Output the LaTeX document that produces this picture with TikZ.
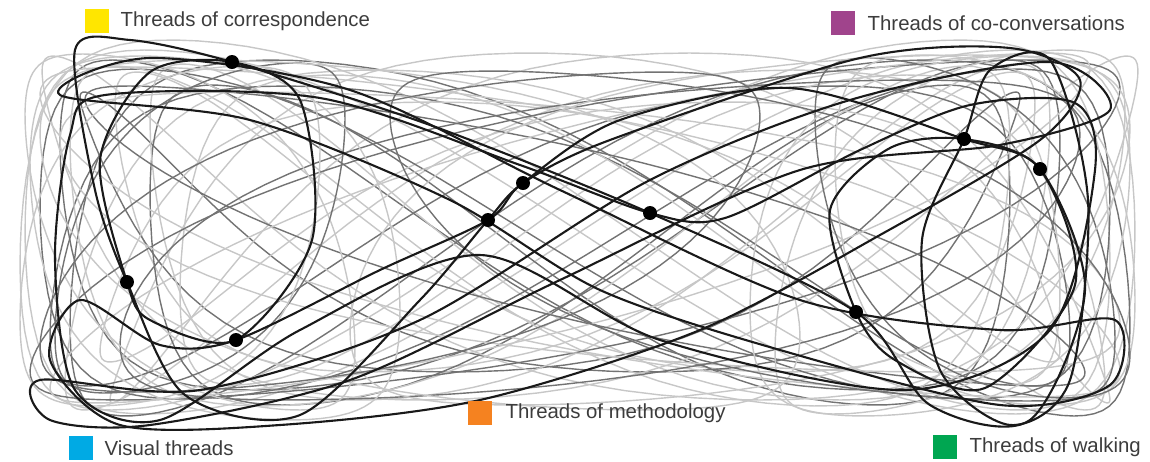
\documentclass[tikz,border=0pt]{standalone}
\usepackage{fontspec}
\setmainfont{Liberation Sans}
\usetikzlibrary{positioning}
\definecolor{corrYellow}{RGB}{255,230,0}
\definecolor{convPurple}{RGB}{160,68,140}
\definecolor{visBlue}{RGB}{0,170,228}
\definecolor{methOrange}{RGB}{245,130,32}
\definecolor{walkGreen}{RGB}{0,166,81}
\definecolor{labelGray}{RGB}{60,60,60}

\begin{document}
\begin{tikzpicture}[
  x=0.02cm, y=-0.02cm,
  declare function={sq(\u)=(sin(\u)+0.05*sin(3*\u))/0.95;},
  thread/.style={line width=0.8pt, line join=round},
  faint/.style={thread, black!22},
  mid/.style={thread, black!55},
  strong/.style={line width=1.2pt, black!90, line join=round},
  knot/.style={circle, fill=black, inner sep=0pt, minimum size=0.28cm},
  swatch/.style={minimum size=0.48cm, inner sep=0pt},
  key/.style={font=\fontsize{11.6}{13}\selectfont, text=labelGray, inner sep=0pt}
]
\useasboundingbox (0,0) rectangle (1150,461);

% --- Figure-eight threads ---
\foreach \cx/\cy/\a/\b/\q/\tone in {
  580/232/555/182/0/faint, 560/225/500/165/25/mid, 600/238/530/178/-25/mid,
  575/222/460/150/45/faint, 585/240/520/170/-50/faint, 550/232/470/140/70/mid,
  610/228/500/175/-75/faint, 580/245/430/160/15/mid, 565/225/545/185/-10/faint,
  600/232/450/168/35/faint, 560/236/510/150/-35/mid, 590/228/548/172/60/faint,
  580/232/480/130/-60/faint, 575/234/535/165/8/mid, 620/230/440/155/-20/faint,
  540/236/470/170/28/faint}
  \draw[\tone] plot[domain=0:360, samples=120, variable=\t]
    ({\cx+\a*sq(\t)}, {\cy+\b*sq(2*\t+\q)});

% --- Loop threads ---
\foreach \cx/\cy/\a/\b/\q/\tone in {
  580/232/540/165/40/faint, 575/230/545/170/140/mid, 585/236/500/150/30/mid,
  570/228/520/175/150/faint, 590/232/530/140/55/faint, 600/240/480/160/125/mid,
  190/232/165/178/55/faint, 200/228/145/165/125/mid, 215/238/185/182/70/faint,
  170/236/150/170/115/faint,
  950/232/175/182/125/faint, 965/228/150/170/55/mid, 940/236/190/180/110/faint,
  985/230/150/175/70/faint,
  420/235/380/175/60/faint, 740/230/390/175/120/faint,
  400/232/360/160/130/mid, 760/236/370/165/50/mid}
  \draw[\tone] plot[domain=0:360, samples=100, variable=\t]
    ({\cx+\a*sq(\t)}, {\cy+\b*sq(\t+\q)});

% --- Dark threads ---
\draw[strong] plot[smooth cycle] coordinates {(232,62) (300,100) (312,240) (236,340)
  (150,320) (127,282) (100,160) (150,72)};
\draw[strong] plot[smooth cycle] coordinates {(75,50) (95,190) (127,282) (185,395)
  (300,415) (420,300) (488,220) (523,183) (620,120) (790,88) (964,139) (1040,169)
  (1085,290) (1030,420) (930,405) (856,312) (650,213) (430,125) (232,62) (130,40)};
\draw[strong] plot[smooth cycle] coordinates {(964,139) (990,70) (1050,60) (1088,200)
  (1070,380) (1010,425) (940,370) (922,240)};
\draw[strong] plot[smooth cycle] coordinates {(856,312) (830,210) (890,148) (964,139)
  (1040,169) (1075,285) (985,388) (895,360)};
\draw[strong] plot[smooth cycle] coordinates {(70,135) (105,95) (320,98) (520,165)
  (650,213) (725,218) (860,150) (970,105) (1075,103) (1095,170) (1050,330) (905,390)
  (660,340) (480,255) (300,330) (160,420) (75,390) (55,260)};
\draw[strong] plot[smooth cycle] coordinates {(80,300) (160,345) (236,340) (380,270)
  (488,220) (523,183) (610,140) (860,58) (1010,48) (1080,80) (1040,140) (880,235)
  (700,330) (480,400) (280,425) (120,425) (50,360)};
\draw[strong] plot[smooth cycle] coordinates {(60,95) (250,120) (450,200) (600,290)
  (780,350) (1000,405) (1110,385) (1115,320) (1000,330) (800,300) (560,190)
  (350,90) (150,58)};
\draw[strong] plot[smooth cycle] coordinates {(40,380) (200,390) (420,320) (650,180)
  (850,100) (1050,62) (1110,110) (1000,145) (800,170) (560,280) (350,380)
  (150,425) (50,420)};

% --- Knots ---
\node[knot] (k1) at (232,62) {};
\node[knot] (k2) at (127,282) {};
\node[knot] (k3) at (236,340) {};
\node[knot] (k4) at (488,220) {};
\node[knot] (k5) at (523,183) {};
\node[knot] (k6) at (650,213) {};
\node[knot] (k7) at (856,312) {};
\node[knot] (k8) at (964,139) {};
\node[knot] (k9) at (1040,169) {};

% --- Legend ---
\node[swatch, fill=corrYellow] (swCorr) at (97,21) {};
\node[key, right=0.22cm of swCorr] (keyCorr) {Threads of correspondence};
\node[swatch, fill=convPurple] (swConv) at (843,23) {};
\node[key, right=0.24cm of swConv] (keyConv) {Threads of co-conversations};
\node[swatch, fill=methOrange] (swMeth) at (480,413) {};
\node[key, right=0.26cm of swMeth] (keyMeth) {Threads of methodology};
\node[swatch, fill=visBlue] (swVis) at (81,448) {};
\node[key, right=0.22cm of swVis] (keyVis) {Visual threads};
\node[swatch, fill=walkGreen] (swWalk) at (945,447) {};
\node[key, right=0.24cm of swWalk] (keyWalk) {Threads of walking};
\end{tikzpicture}
\end{document}
